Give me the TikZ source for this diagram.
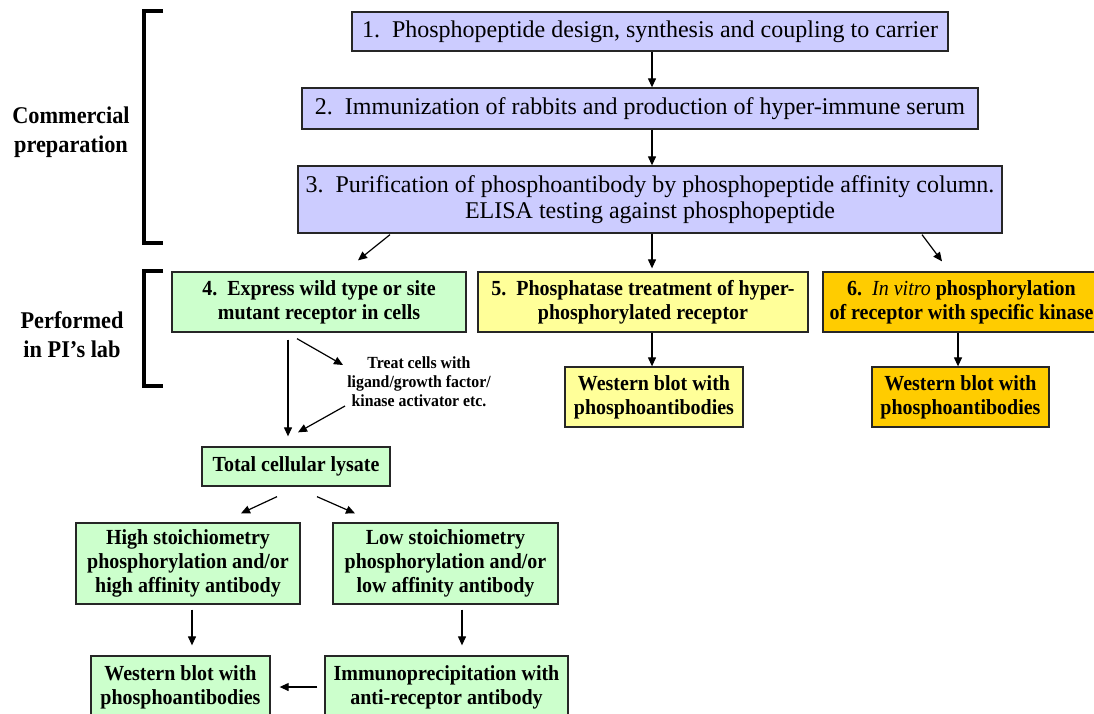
\documentclass[tikz,border=0pt]{standalone}
\usepackage{fontspec}
\setmainfont{Liberation Serif}
\newfontfamily\bxfont{Liberation Serif}[FakeStretch=0.93]
\usetikzlibrary{arrows.meta}
\definecolor{lav}{HTML}{CCCCFF}
\definecolor{grn}{HTML}{CCFFCC}
\definecolor{ylw}{HTML}{FFFF99}
\definecolor{org}{HTML}{FFCC00}
\begin{document}
\begin{tikzpicture}[x=1pt,y=-1pt,
  box/.style={draw=black!85, line width=1.3pt, align=center, inner sep=0pt,
    font=\bxfont\bfseries\fontsize{21.5}{24}\selectfont},
  topbox/.style={box, fill=lav, font=\fontsize{24}{26}\selectfont},
  small/.style={align=center, inner sep=0pt, font=\bxfont\bfseries\fontsize{17}{19}\selectfont},
  lbl/.style={align=center, inner sep=0pt, font=\bxfont\bfseries\fontsize{24}{29}\selectfont},
  arr/.style={-{Triangle[length=9pt,width=8pt]}, line width=1.2pt},
  brk/.style={line width=4pt}]
\useasboundingbox (0,0) rectangle (1094,713);
\fill[white] (0,0) rectangle (1094,713);

% labels and brackets
\node[lbl] (lc) at (71,132.5) {Commercial\\preparation};
\node[lbl] (lp) at (72,335) {Performed\\in PI’s lab};
\draw[brk] (163,11) -- (144,11) -- (144,243) -- (163,243);
\draw[brk] (163,271) -- (144,271) -- (144,386) -- (163,386);

% boxes
\node[topbox, minimum width=596pt, minimum height=39pt] (b1) at (650,31.5)
  {1.\ \ Phosphopeptide design, synthesis and coupling to carrier};
\node[topbox, minimum width=676pt, minimum height=41pt] (b2) at (640,108.5)
  {2.\ \ Immunization of rabbits and production of hyper-immune serum};
\node[topbox, minimum width=704pt, minimum height=67pt] (b3) at (650,199.5)
  {3.\ \ Purification of phosphoantibody by phosphopeptide affinity column.\\ELISA testing against phosphopeptide};
\node[box, fill=grn, minimum width=294pt, minimum height=60pt] (b4) at (319,302)
  {4.\ \ Express wild type or site\\mutant receptor in cells};
\node[box, fill=ylw, minimum width=330pt, minimum height=60pt] (b5) at (643,302)
  {5.\ \ Phosphatase treatment of hyper-\\phosphorylated receptor};
\node[box, fill=org, minimum width=277pt, minimum height=60pt] (b6) at (961.5,302)
  {6.\ \ {\mdseries\itshape In vitro} phosphorylation\\of receptor with specific kinase};
\node[box, fill=ylw, minimum width=178pt, minimum height=60pt] (wb5) at (654,397)
  {Western blot with\\phosphoantibodies};
\node[box, fill=org, minimum width=177pt, minimum height=60pt] (wb6) at (960.5,397)
  {Western blot with\\phosphoantibodies};
\node[small] (treat) at (419,382) {Treat cells with\\ligand/growth factor/\\kinase activator etc.};
\node[box, fill=grn, minimum width=188pt, minimum height=39pt] (lys) at (296,466.5)
  {Total cellular lysate};
\node[box, fill=grn, minimum width=224pt, minimum height=81pt] (high) at (188,563.5)
  {High stoichiometry\\phosphorylation and/or\\high affinity antibody};
\node[box, fill=grn, minimum width=225pt, minimum height=81pt] (low) at (445.5,563.5)
  {Low stoichiometry\\phosphorylation and/or\\low affinity antibody};
\node[box, fill=grn, minimum width=179pt, minimum height=62pt] (wbl) at (180.5,687)
  {Western blot with\\phosphoantibodies};
\node[box, fill=grn, minimum width=243pt, minimum height=62pt] (ip) at (446.5,687)
  {Immunoprecipitation with\\anti-receptor antibody};

% connectors
\coordinate (ax) at (652,0);
\coordinate (hx) at (192,0);
\coordinate (lx) at (462,0);
\coordinate (vx) at (288,0);
\draw[arr] (b1.south -| ax) -- (b2.north -| ax);
\draw[arr] (b2.south -| ax) -- (b3.north -| ax);
\draw[arr, shorten >=3pt] (b3.south -| ax) -- (b5.north -| ax);
\draw[arr] (b5.south -| ax) -- (wb5.north -| ax);
\draw[arr] ([xshift=-260pt,yshift=-1pt]b3.south) -- ([xshift=39pt,yshift=11pt]b4.north);
\draw[arr] ([xshift=272pt,yshift=-1pt]b3.south) -- ([xshift=-19.5pt,yshift=10pt]b6.north);
\draw[arr] ([xshift=-3.5pt]b6.south) -- ([xshift=-3.5pt]b6.south |- wb6.north);
\draw[arr, shorten <=7pt, shorten >=10pt] (b4.south -| vx) -- (lys.north -| vx);
\draw[arr] ([xshift=-22pt,yshift=-6pt]b4.south) -- ([xshift=-76pt,yshift=17pt]treat.center);
\draw[arr] ([xshift=-74pt,yshift=-24pt]treat.center) -- ([xshift=2pt,yshift=14pt]lys.north);
\draw[arr] ([xshift=-19pt,yshift=-10pt]lys.south) -- ([xshift=53pt,yshift=9pt]high.north);
\draw[arr] ([xshift=21pt,yshift=-10pt]lys.south) -- ([xshift=-90.5pt,yshift=9pt]low.north);
\draw[arr, shorten <=5pt, shorten >=10pt] (high.south -| hx) -- (wbl.north -| hx);
\draw[arr, shorten <=5pt, shorten >=10pt] (low.south -| lx) -- (ip.north -| lx);
\draw[arr, shorten <=7pt, shorten >=9pt] (ip.west) -- (ip.west -| wbl.east);
\end{tikzpicture}
\end{document}
